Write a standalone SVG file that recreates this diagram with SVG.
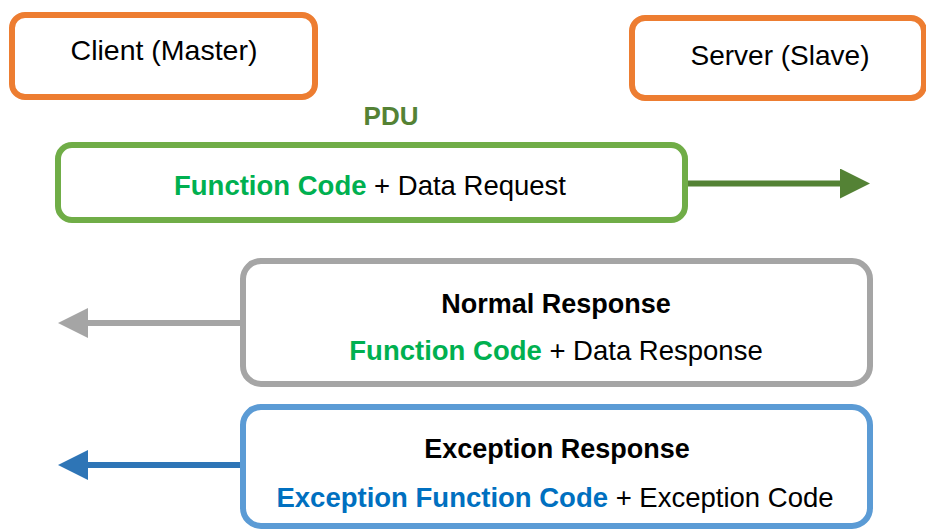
<svg xmlns="http://www.w3.org/2000/svg" width="926" height="532" viewBox="0 0 926 532">
<style>
  text { font-family: "Liberation Sans", Arial, sans-serif; fill: #000; }
  .box { fill: #fff; stroke-width: 6; }
  .orange { stroke: #ED7D31; }
  .green { stroke: #70AD47; }
  .gray { stroke: #A5A5A5; }
  .blue { stroke: #5B9BD5; }
  .b { font-weight: bold; }
  .fc { fill: #00B050; font-weight: bold; }
  .efc { fill: #0070C0; font-weight: bold; }
  .conn { stroke-width: 6; fill: none; }
</style>
<defs>
  <marker id="ahG" markerUnits="userSpaceOnUse" markerWidth="30" markerHeight="30" refX="0" refY="15" orient="auto">
    <path d="M0,0 L30,15 L0,30 Z" fill="#548235"/>
  </marker>
  <marker id="ahGr" markerUnits="userSpaceOnUse" markerWidth="30" markerHeight="30" refX="0" refY="15" orient="auto">
    <path d="M0,0 L30,15 L0,30 Z" fill="#A5A5A5"/>
  </marker>
  <marker id="ahB" markerUnits="userSpaceOnUse" markerWidth="30" markerHeight="30" refX="0" refY="15" orient="auto">
    <path d="M0,0 L30,15 L0,30 Z" fill="#2E75B6"/>
  </marker>
</defs>
<rect width="926" height="532" fill="#fff"/>

<g id="connectors">
  <line class="conn" x1="688" y1="183.5" x2="840" y2="183.5" stroke="#548235" marker-end="url(#ahG)"/>
  <line class="conn" x1="240" y1="323" x2="88" y2="323" stroke="#A5A5A5" marker-end="url(#ahGr)"/>
  <line class="conn" x1="240" y1="465" x2="88" y2="465" stroke="#2E75B6" marker-end="url(#ahB)"/>
</g>

<g id="client">
  <rect class="box orange" x="12" y="15" width="303" height="82" rx="13"/>
  <text x="164" y="60" font-size="28.5" text-anchor="middle">Client (Master)</text>
</g>

<g id="server">
  <rect class="box orange" x="632" y="18" width="292" height="80" rx="13"/>
  <text x="780" y="65" font-size="28" text-anchor="middle">Server (Slave)</text>
</g>

<g id="pdu-label">
  <text x="391" y="125" font-size="26" text-anchor="middle" class="b" style="fill:#548235">PDU</text>
</g>

<g id="request">
  <rect class="box green" x="58" y="145" width="627" height="75" rx="14"/>
  <text x="370" y="195" font-size="27.5" text-anchor="middle"><tspan class="fc">Function Code</tspan> + Data Request</text>
</g>

<g id="normal-response">
  <rect class="box gray" x="243" y="261" width="627" height="123" rx="18"/>
  <text x="556" y="313" font-size="27" text-anchor="middle" class="b">Normal Response</text>
  <text x="556" y="360" font-size="27.5" text-anchor="middle"><tspan class="fc">Function Code</tspan> + Data Response</text>
</g>

<g id="exception-response">
  <rect class="box blue" x="243" y="407" width="627" height="119" rx="18"/>
  <text x="557" y="458" font-size="27" text-anchor="middle" class="b">Exception Response</text>
  <text x="555" y="507" font-size="27.5" text-anchor="middle"><tspan class="efc">Exception Function Code</tspan> + Exception Code</text>
</g>
</svg>
